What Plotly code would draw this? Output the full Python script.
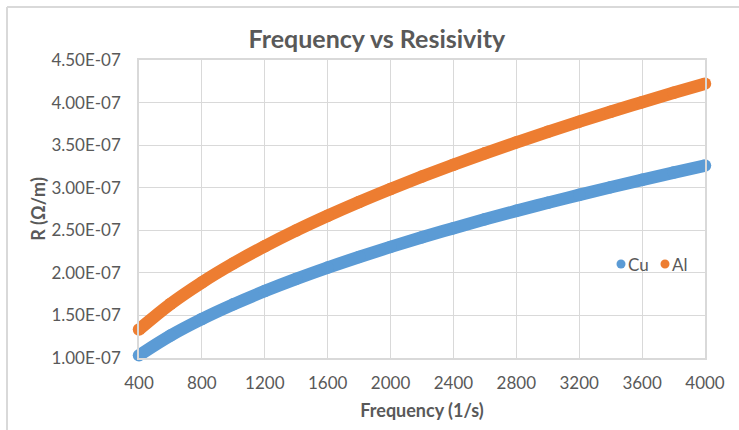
import plotly.graph_objects as go

# Data
freq = [400, 600, 800, 1000, 1200, 1400, 1600, 1800, 2000, 2200, 2400,
        2600, 2800, 3000, 3200, 3400, 3600, 3800, 4000]
cu_r = [1.031e-7, 1.263e-7, 1.458e-7, 1.630e-7, 1.786e-7, 1.929e-7, 2.062e-7,
        2.187e-7, 2.305e-7, 2.418e-7, 2.525e-7, 2.629e-7, 2.728e-7, 2.823e-7,
        2.916e-7, 3.006e-7, 3.093e-7, 3.178e-7, 3.260e-7]
al_r = [1.335e-7, 1.635e-7, 1.888e-7, 2.111e-7, 2.312e-7, 2.498e-7, 2.670e-7,
        2.832e-7, 2.985e-7, 3.131e-7, 3.270e-7, 3.404e-7, 3.532e-7, 3.656e-7,
        3.776e-7, 3.892e-7, 4.005e-7, 4.115e-7, 4.222e-7]
x_ticks = [400, 800, 1200, 1600, 2000, 2400, 2800, 3200, 3600, 4000]
y_tickvals = [1.0e-7, 1.5e-7, 2.0e-7, 2.5e-7, 3.0e-7, 3.5e-7, 4.0e-7, 4.5e-7]
y_ticktext = ["1.00E-07", "1.50E-07", "2.00E-07", "2.50E-07",
              "3.00E-07", "3.50E-07", "4.00E-07", "4.50E-07"]
series_names = ["Cu", "Al"]

CU_COL = "#5b9bd5"
AL_COL = "#ed7d31"
GRID = "#d9d9d9"
TXT = "#595959"
FONT = "Lato"

W, H = 739, 430
L, R, T, B = 139, 34, 60, 72
pw, ph = W - L - R, H - T - B

fig = go.Figure()
for name, ys, col in [(series_names[0], cu_r, CU_COL), (series_names[1], al_r, AL_COL)]:
    fig.add_trace(go.Scatter(
        x=freq, y=ys, name=name, mode="lines+markers",
        line=dict(color=col, width=12.5, shape="spline"),
        marker=dict(color=col, size=12.5),
        cliponaxis=False, showlegend=False, hoverinfo="x+y+name"))

def px_to_paper_x(px):
    return (px - L) / pw

def px_to_paper_y(py):
    return (H - B - py) / ph

shapes = [
    # outer chart border (left and top)
    dict(type="line", xref="paper", yref="paper",
         x0=px_to_paper_x(7), x1=px_to_paper_x(7), y0=px_to_paper_y(7), y1=px_to_paper_y(H + 5),
         line=dict(color=GRID, width=2)),
    dict(type="line", xref="paper", yref="paper",
         x0=px_to_paper_x(7), x1=px_to_paper_x(W + 5), y0=px_to_paper_y(7), y1=px_to_paper_y(7),
         line=dict(color=GRID, width=2)),
]
annotations = []
# manual legend
legend_items = [(series_names[0], CU_COL, 621), (series_names[1], AL_COL, 665)]
ly = 264
for name, col, cx in legend_items:
    r = 4.5
    shapes.append(dict(type="circle", xref="paper", yref="paper",
                       x0=px_to_paper_x(cx - r), x1=px_to_paper_x(cx + r),
                       y0=px_to_paper_y(ly + r), y1=px_to_paper_y(ly - r),
                       fillcolor=col, line=dict(width=0)))
    annotations.append(dict(text=name, xref="paper", yref="paper",
                            x=px_to_paper_x(cx + 5), y=px_to_paper_y(ly),
                            xanchor="left", yanchor="middle", showarrow=False,
                            font=dict(family=FONT, size=17, color=TXT)))

fig.update_layout(
    width=W, height=H,
    margin=dict(l=L, r=R, t=T, b=B),
    paper_bgcolor="white", plot_bgcolor="white",
    title=dict(text="<b>Frequency vs Resisivity</b>", x=0.51, xanchor="center",
               y=1 - 39 / H, yanchor="middle",
               font=dict(family=FONT, size=25, color=TXT)),
    xaxis=dict(range=[400, 4000], tickvals=x_ticks, ticktext=[str(v) for v in x_ticks],
               showgrid=True, gridcolor=GRID, gridwidth=1,
               showline=True, linecolor=GRID, linewidth=1.5, mirror=True,
               zeroline=False, ticks="", ticklabelstandoff=9,
               tickfont=dict(family=FONT, size=17, color=TXT),
               title=dict(text="<b>Frequency (1/s)</b>", standoff=12,
                          font=dict(family=FONT, size=18, color=TXT))),
    yaxis=dict(range=[1.0e-7, 4.5e-7], tickvals=y_tickvals, ticktext=y_ticktext,
               showgrid=True, gridcolor=GRID, gridwidth=1,
               showline=True, linecolor=GRID, linewidth=1.5, mirror=True,
               zeroline=False, ticks="", ticklabelstandoff=13,
               tickfont=dict(family=FONT, size=17, color=TXT),
               title=dict(text="<b>R (Ω/m)</b>", standoff=1,
                          font=dict(family=FONT, size=18, color=TXT))),
    shapes=shapes, annotations=annotations,
    showlegend=False,
)

fig.write_html("out.html")
